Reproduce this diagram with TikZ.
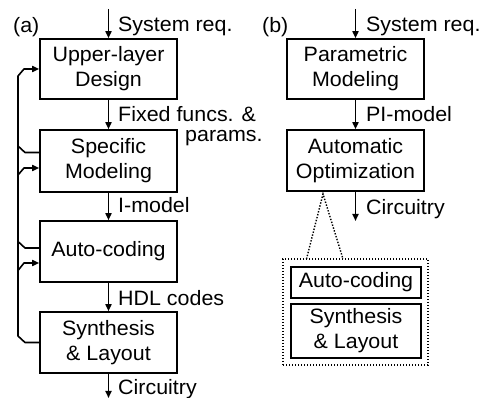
\documentclass[tikz,border=0pt]{standalone}
\usepackage{fontspec}
\setmainfont{Liberation Sans}[FakeStretch=1.03]
\usetikzlibrary{arrows.meta}
\begin{document}
\begin{tikzpicture}[x=1pt,y=-1pt,
  font=\fontsize{20.8}{25}\selectfont,
  box/.style={draw, line width=1.6pt, inner sep=0pt, align=center, minimum width=137pt},
  sbox/.style={draw, line width=1.6pt, inner sep=0pt, align=center, minimum width=130pt},
  conn/.style={line width=1.6pt, -{Triangle[length=7pt,width=6pt]}},
  fb/.style={line width=1.6pt, line join=round},
  dotline/.style={line width=1.4pt, dash pattern=on 1.4pt off 1.6pt},
  lbl/.style={anchor=base west, inner sep=0pt}]
\useasboundingbox (0,0) rectangle (480,398);

% ---------- (a) ----------
\node[lbl] (ta) at (13,33) {(a)};
\node[box, minimum height=60pt] (ud) at (108.5,69) {Upper-layer\\Design};
\node[box, minimum height=62pt] (sm) at (108.5,161) {Specific\\Modeling};
\node[box, minimum height=61pt] (ac) at (108.5,251.5) {Auto-coding};
\node[box, minimum height=61pt] (sl) at (108.5,342.5) {Synthesis\\\& Layout};

\coordinate (ain) at (108.5,9);
\coordinate (aout) at (108.5,398);
\draw[conn] (ain) -- (ud.north);
\draw[conn] (ud.south) -- (sm.north);
\draw[conn] (sm.south) -- (ac.north);
\draw[conn] (ac.south) -- (sl.north);
\draw[conn] (sl.south) -- (aout);

\node[lbl] (l1) at (118,32) {System req.};
\node[lbl] (l2) at (118,122) {Fixed funcs. \&};
\node[lbl] (l2b) at (185,142) {params.};
\node[lbl] (l3) at (118,213) {I-model};
\node[lbl] (l4) at (118,306) {HDL codes};
\node[lbl] (l5) at (118,395) {Circuitry};

% feedback bus
\draw[conn, line join=round] (sl.west) -- (25,342.5) -- (18,336) -- (18,76) -- (24,69) -- (ud.west);
\draw[fb] ([yshift=8.5pt]sm.west) -- (25,152.5) -- (18,146);
\draw[conn, line join=round] (18,175) -- (24,168) -- ([yshift=-7pt]sm.west);
\draw[fb] ([yshift=3.5pt]ac.west) -- (25,248) -- (18,241.5);
\draw[conn, line join=round] (18,270.5) -- (24,263) -- ([yshift=-11.5pt]ac.west);

% ---------- (b) ----------
\node[lbl] (tb) at (262,33) {(b)};
\node[box, minimum height=60pt] (pm) at (355.5,69) {Parametric\\Modeling};
\node[box, minimum height=61pt] (ao) at (355.5,160.5) {Automatic\\Optimization};

\coordinate (bin) at (355.5,9);
\coordinate (bout) at (355.5,221);
\draw[conn] (bin) -- (pm.north);
\draw[conn] (pm.south) -- (ao.north);
\draw[conn] (ao.south) -- (bout);

\node[lbl] (r1) at (366,32) {System req.};
\node[lbl] (r2) at (366,122) {PI-model};
\node[lbl] (r3) at (366,215) {Circuitry};

\node[draw, dotline, minimum width=145pt, minimum height=106pt, inner sep=0pt] (grp) at (355.5,312) {};
\coordinate (apex) at (323,194);
\draw[dotline] (306.5,259) -- (apex) -- (343,259);
\node[sbox, minimum height=31pt] (ac2) at (356,282.5) {Auto-coding};
\node[sbox, minimum height=54pt] (sl2) at (356,331) {Synthesis\\\& Layout};
\end{tikzpicture}
\end{document}
